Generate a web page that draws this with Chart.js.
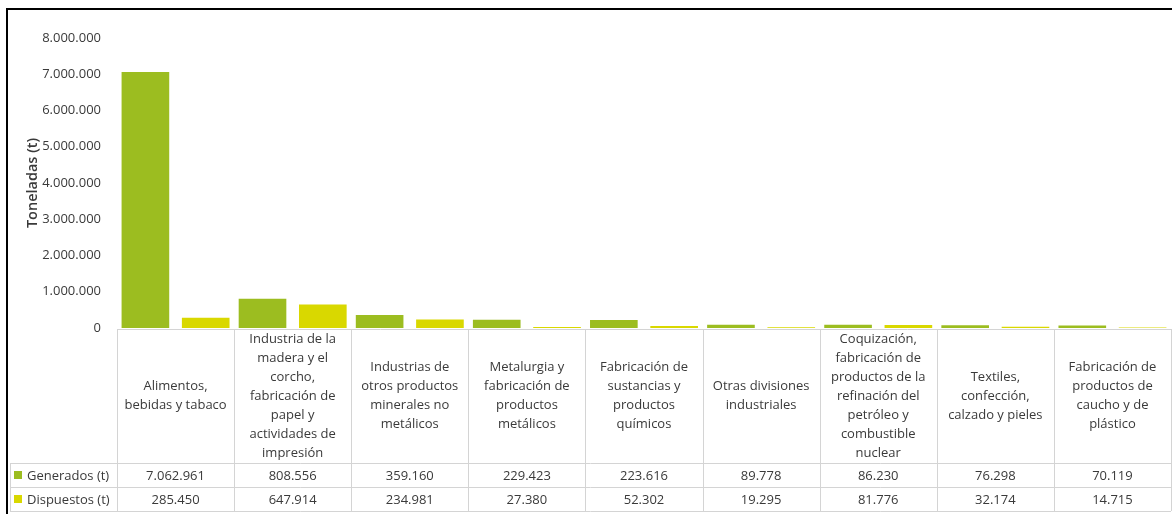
<!DOCTYPE html>
<html>
<head>
<meta charset="utf-8">
<script src="https://cdn.jsdelivr.net/npm/chart.js@4"></script>
<style>
  html, body { margin: 0; padding: 0; background: #fff; }
  #wrap { position: relative; width: 1172px; height: 514px; }
</style>
</head>
<body>
<div id="wrap"><canvas id="residuos-chart" width="1172" height="514"></canvas></div>
<script>
//? Datos
const categorias = [
    ['Alimentos,', 'bebidas y tabaco'],
    ['Industria de la', 'madera y el', 'corcho,', 'fabricación de', 'papel y', 'actividades de', 'impresión'],
    ['Industrias de', 'otros productos', 'minerales no', 'metálicos'],
    ['Metalurgia y', 'fabricación de', 'productos', 'metálicos'],
    ['Fabricación de', 'sustancias y', 'productos', 'químicos'],
    ['Otras divisiones', 'industriales'],
    ['Coquización,', 'fabricación de', 'productos de la', 'refinación del', 'petróleo y', 'combustible', 'nuclear'],
    ['Textiles,', 'confección,', 'calzado y pieles'],
    ['Fabricación de', 'productos de', 'caucho y de', 'plástico']
]
const generados = [7062961, 808556, 359160, 229423, 223616, 89778, 86230, 76298, 70119]
const dispuestos = [285450, 647914, 234981, 27380, 52302, 19295, 81776, 32174, 14715]
const ticksY = [0, 1000000, 2000000, 3000000, 4000000, 5000000, 6000000, 7000000, 8000000]

const verde = '#9cbd20'
const amarillo = '#d9d800'
const texto = '#3a3a3a'
const lineaTabla = '#d4d4d4'
const fuente = "'Open Sans', sans-serif"

// 7062961 -> "7.062.961"
const fmt = n => String(Math.round(n)).replace(/\B(?=(\d{3})+(?!\d))/g, '.')

//? Tabla de datos bajo el eje x
const tablaPlugin = {
    id: 'tabla',
    afterDraw(chart) {
        const ctx = chart.ctx
        const x = chart.scales.x
        const area = chart.chartArea
        const n = categorias.length
        const ancho = (x.right - x.left) / n
        const top = area.bottom + 1
        const filaH = 24
        const cabH = 134
        const f1 = top + cabH
        const f2 = f1 + filaH
        const fin = f2 + filaH
        const izq = 10

        ctx.save()
        ctx.strokeStyle = lineaTabla
        ctx.lineWidth = 1
        ctx.beginPath()
        // lineas horizontales
        ctx.moveTo(x.left, top + .5); ctx.lineTo(x.right, top + .5)
        ctx.moveTo(izq, f1 + .5); ctx.lineTo(x.right, f1 + .5)
        ctx.moveTo(izq, f2 + .5); ctx.lineTo(x.right, f2 + .5)
        ctx.moveTo(izq, fin + .5); ctx.lineTo(x.right, fin + .5)
        // lineas verticales
        ctx.moveTo(izq + .5, f1); ctx.lineTo(izq + .5, fin)
        for (let i = 0; i <= n; i++) {
            const px = Math.round(x.left + i * ancho) + .5
            ctx.moveTo(px, top); ctx.lineTo(px, fin)
        }
        ctx.stroke()

        ctx.fillStyle = texto
        ctx.font = '13px ' + fuente
        ctx.textAlign = 'center'
        ctx.textBaseline = 'middle'
        const lh = 19
        categorias.forEach((lineas, i) => {
            const cx = x.getPixelForValue(i)
            const y0 = top + cabH / 2 - (lineas.length - 1) * lh / 2
            lineas.forEach((l, j) => ctx.fillText(l, cx, y0 + j * lh))
            ctx.fillText(fmt(generados[i]), cx, f1 + filaH / 2 + 1)
            ctx.fillText(fmt(dispuestos[i]), cx, f2 + filaH / 2 + 1)
        })

        // leyenda de la tabla
        chart.data.datasets.forEach((ds, k) => {
            const cy = (k === 0 ? f1 : f2) + filaH / 2
            ctx.fillStyle = ds.backgroundColor
            ctx.fillRect(14, cy - 4, 8, 8)
            ctx.fillStyle = texto
            ctx.textAlign = 'left'
            ctx.fillText(ds.label, 27, cy + 1)
        })

        // marco
        ctx.fillStyle = '#000'
        ctx.fillRect(6, 8, 1166, 2)
        ctx.fillRect(6, 8, 2, 506)
        ctx.restore()
    }
}

const dataResiduos = {
    labels: categorias,
    datasets: [
        {
            label: 'Generados (t)',
            data: generados,
            backgroundColor: verde,
            categoryPercentage: 1.03,
            barPercentage: 0.79
        },
        {
            label: 'Dispuestos (t)',
            data: dispuestos,
            backgroundColor: amarillo,
            categoryPercentage: 1.03,
            barPercentage: 0.79
        }
    ]
}

const configResiduos = {
    type: 'bar',
    data: dataResiduos,
    plugins: [tablaPlugin],
    options: {
        responsive: false,
        animation: false,
        layout: { padding: { top: 38, right: 1, bottom: 186, left: 0 } },
        plugins: {
            legend: { display: false },
            tooltip: { enabled: false }
        },
        scales: {
            x: { display: false },
            y: {
                min: 0,
                max: 8000000,
                afterFit: s => { s.width = 117 },
                afterBuildTicks: s => { s.ticks = ticksY.map(v => ({ value: v })) },
                grid: { display: false, drawTicks: false },
                border: { display: false },
                ticks: {
                    padding: 16,
                    color: texto,
                    font: { family: fuente, size: 13 },
                    callback: v => fmt(v)
                },
                title: {
                    display: true,
                    text: 'Toneladas (t)',
                    color: texto,
                    font: { family: fuente, size: 14.5, weight: '600' },
                    padding: { top: 24, bottom: 0 }
                }
            }
        }
    }
}

const chartCanvas = document.getElementById('residuos-chart')
const residuosChart = new Chart(chartCanvas, configResiduos)
</script>
</body>
</html>
